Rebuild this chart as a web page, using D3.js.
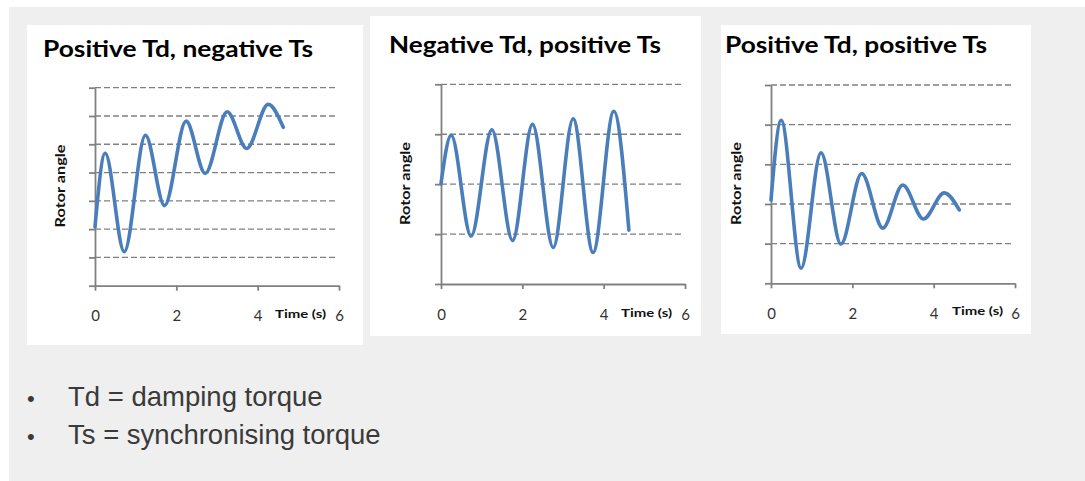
<!DOCTYPE html>
<html>
<head>
<meta charset="utf-8">
<script src="https://cdn.jsdelivr.net/npm/d3@7"></script>
<style>
  body { margin: 0; background: #ffffff; }
  svg { display: block; }
</style>
</head>
<body>
<div id="chart"></div>
<script>
// chart titles and shared tick values
var titles = ['Positive Td, negative Ts', 'Negative Td, positive Ts', 'Positive Td, positive Ts'];
var xTicks = [0, 2, 4, 6];
var notes = ['Td = damping torque', 'Ts = synchronising torque'];

// series (time in s, rotor angle in gridline units)
var time1 = [0, 0.25, 0.72, 1.24, 1.71, 2.24, 2.71, 3.25, 3.73, 4.26, 4.63];
var angle1 = [2.08, 4.68, 1.2, 5.32, 2.83, 5.82, 3.97, 6.15, 4.85, 6.41, 5.6];

var time2 = [0, 0.25, 0.74, 1.25, 1.76, 2.25, 2.76, 3.25, 3.74, 4.25, 4.62];
var angle2 = [2.01, 2.98, 0.96, 3.09, 0.87, 3.2, 0.73, 3.31, 0.63, 3.46, 1.08];

var time3 = [0, 0.25, 0.74, 1.23, 1.72, 2.23, 2.75, 3.24, 3.75, 4.26, 4.63];
var angle3 = [2.1, 4.11, 0.38, 3.29, 0.99, 2.77, 1.39, 2.48, 1.62, 2.28, 1.85];

var yMaxes = [7, 4, 5];

var W = 1085, H = 481;
var svg = d3.select('#chart').append('svg')
	.attr('width', W)
	.attr('height', H);

// grey slide background
svg.append('rect')
	.attr('x', 9).attr('y', 7)
	.attr('width', W - 9).attr('height', H - 7)
	.attr('fill', '#efefef');

var panels = [
	{ box: [27, 25, 336, 320], x0: 95, x6: 339, top: 87.7, bottom: 285.7, titleX: 43, titleY: 57, titleW: 270,
	  timeX: 275, timeY: 317.7, rotorX: 61, rotorY: 186, time: time1, angle: angle1 },
	{ box: [370, 16, 331, 320], x0: 441, x6: 685, top: 84.3, bottom: 284, titleX: 389, titleY: 53.3, titleW: 272,
	  timeX: 621, timeY: 316.7, rotorX: 406, rotorY: 183.5, time: time2, angle: angle2 },
	{ box: [721, 25, 310, 309], x0: 771, x6: 1015, top: 85, bottom: 283.3, titleX: 725, titleY: 53.3, titleW: 262,
	  timeX: 952, timeY: 315, rotorX: 737, rotorY: 183.5, time: time3, angle: angle3 }
];

var axisGrey = '#808080';

panels.forEach(function (p, i) {
	var g = svg.append('g');

	g.append('rect')
		.attr('x', p.box[0]).attr('y', p.box[1])
		.attr('width', p.box[2]).attr('height', p.box[3])
		.attr('fill', '#ffffff');

	g.append('text')
		.text(titles[i])
		.attr('x', p.titleX).attr('y', p.titleY)
		.attr('textLength', p.titleW)
		.attr('lengthAdjust', 'spacingAndGlyphs')
		.attr('font-family', 'Lato, sans-serif')
		.attr('font-weight', 'bold')
		.attr('font-size', '22px')
		.attr('fill', '#000000');

	var x = d3.scaleLinear().domain([0, 6]).range([p.x0, p.x6]);
	var y = d3.scaleLinear().domain([0, yMaxes[i]]).range([p.bottom, p.top]);

	// dashed gridlines
	g.selectAll('line.grid')
		.data(d3.range(1, yMaxes[i] + 1))
		.enter()
		.append('line')
		.attr('class', 'grid')
		.attr('x1', p.x0).attr('x2', p.x6 - 4)
		.attr('y1', function (d) { return y(d); })
		.attr('y2', function (d) { return y(d); })
		.attr('stroke', axisGrey)
		.attr('stroke-width', 1.3)
		.attr('stroke-dasharray', '6,3');

	var yAxis = d3.axisLeft(y)
		.tickValues(d3.range(0, yMaxes[i] + 1))
		.tickFormat('')
		.tickSize(6)
		.tickSizeOuter(0);

	var gy = g.append('g')
		.attr('transform', 'translate(' + p.x0 + ',0)')
		.call(yAxis);

	var xAxis = d3.axisBottom(x)
		.tickValues(xTicks)
		.tickFormat(d3.format('d'))
		.tickSize(5)
		.tickSizeOuter(0)
		.tickPadding(20);

	var gx = g.append('g')
		.attr('transform', 'translate(0,' + p.bottom + ')')
		.call(xAxis);

	[gx, gy].forEach(function (a) {
		a.selectAll('path, line')
			.attr('stroke', axisGrey)
			.attr('stroke-width', 1.8);
	});
	gx.selectAll('text')
		.attr('font-family', 'Lato, sans-serif')
		.attr('font-size', '15px')
		.attr('fill', '#333333');

	g.append('text')
		.text('Time (s)')
		.attr('x', p.timeX).attr('y', p.timeY)
		.attr('textLength', 51)
		.attr('lengthAdjust', 'spacingAndGlyphs')
		.attr('font-family', 'Lato, sans-serif')
		.attr('font-weight', 'bold')
		.attr('font-size', '12px')
		.attr('fill', '#111111');

	g.append('text')
		.text('Rotor angle')
		.attr('transform', 'translate(' + p.rotorX + ',' + p.rotorY + ') rotate(-90)')
		.attr('text-anchor', 'middle')
		.attr('dy', '0.35em')
		.attr('textLength', 83)
		.attr('lengthAdjust', 'spacingAndGlyphs')
		.attr('font-family', 'Lato, sans-serif')
		.attr('font-weight', 'bold')
		.attr('font-size', '12.5px')
		.attr('fill', '#111111');

	var lineFn = d3.line()
		.x(function (d) { return x(d[0]); })
		.y(function (d) { return y(d[1]); })
		.curve(d3.curveMonotoneX);

	g.append('path')
		.attr('d', lineFn(d3.zip(p.time, p.angle)))
		.attr('fill', 'none')
		.attr('stroke', '#4a7ebb')
		.attr('stroke-width', 3.6)
		.attr('stroke-linecap', 'round')
		.attr('stroke-linejoin', 'round');
});

// bullet notes
var noteY = [406, 443.5];
notes.forEach(function (n, i) {
	svg.append('text')
		.text('\u2022')
		.attr('x', 27).attr('y', noteY[i])
		.attr('font-family', 'Liberation Sans, Arial, sans-serif')
		.attr('font-size', '22px')
		.attr('fill', '#3a3a3a');
	svg.append('text')
		.text(n)
		.attr('x', 68).attr('y', noteY[i])
		.attr('font-family', 'Liberation Sans, Arial, sans-serif')
		.attr('font-size', '27.5px')
		.attr('fill', '#3a3a3a');
});
</script>
</body>
</html>
